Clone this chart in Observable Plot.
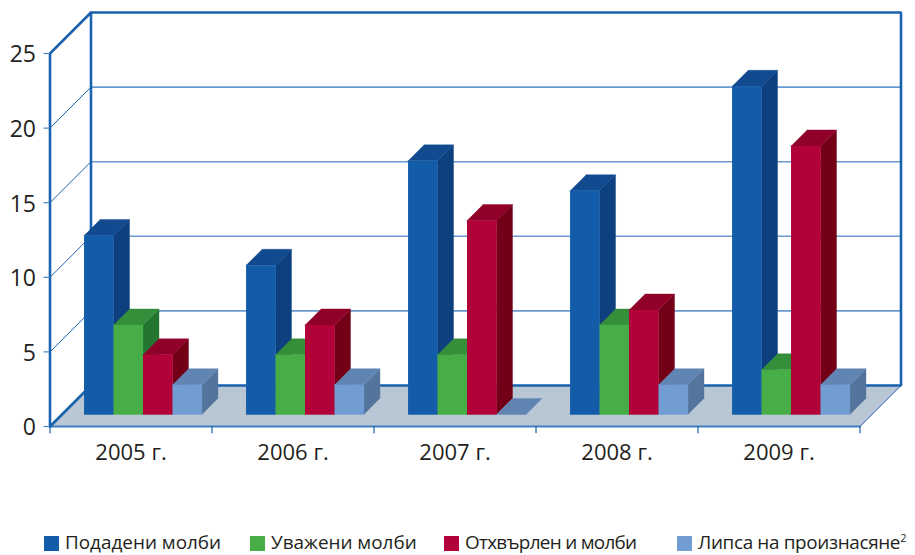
<!DOCTYPE html>
<html>
<head>
<meta charset="utf-8">
<script src="https://cdn.jsdelivr.net/npm/d3@7"></script>
<script src="https://cdn.jsdelivr.net/npm/@observablehq/plot@0.6"></script>
<style>
html,body{margin:0;padding:0;background:#fff;overflow:hidden}
#chart svg{display:block}
#legend{position:relative;height:30px;font-family:"Open Sans",sans-serif;font-size:18.9px;color:#231f20}
.item{position:absolute;top:5.5px;white-space:nowrap;line-height:22px}
.sw{position:absolute;top:11px;width:15px;height:15px}
sup{font-size:11px;line-height:0}
</style>
</head>
<body>
<div id="chart"></div>
<div id="legend"></div>
<script>
const years = ["2005 г.", "2006 г.", "2007 г.", "2008 г.", "2009 г."];
const submitted = [12, 10, 17, 15, 22];
const granted = [6, 4, 4, 6, 3];
const rejected = [4, 6, 13, 7, 18];
const noRuling = [2, 2, 0, 2, 2];
const seriesNames = ["Подадени молби", "Уважени молби", "Отхвърлен и молби", "Липса на произнасяне"];
const valueTicks = [0, 5, 10, 15, 20, 25];

const seriesValues = [submitted, granted, rejected, noRuling];
const frontColors = ["#135ca9", "#46ad47", "#b10239", "#719dd3"];
const sideColors = ["#0e3f7f", "#23752f", "#730016", "#54749c"];
const topColors = ["#114a8f", "#358e3a", "#910028", "#6185b2"];

// oblique projection: depth d (0 front, 1 back wall) shifts along x and y in data units
const depthX = 0.253, depthY = 2.75;
const barFront = 0.293, barBack = 0.683;
const barW = 0.182, groupGap = (1 - 4 * barW) / 2;
const yMax = 25;
const p = (x, v, d) => ({x: x + d * depthX, y: v + d * depthY});
const path = (pts, extra = {}) => pts.map(([x, v, d]) => ({...p(x, v, d), ...extra}));

// bar polygons, painted left to right inside each group
const polys = [];
let id = 0;
years.forEach((_, c) => {
  for (let s = 0; s < 4; s++) {
    const v = seriesValues[s][c];
    const x0 = c + groupGap + s * barW, x1 = x0 + barW;
    const f = barFront, b = barBack;
    if (v > 0) {
      polys.push(...path([[x1,0,f],[x1,v,f],[x1,v,b],[x1,0,b]], {z: id++, c: sideColors[s]}));
    }
    polys.push(...path([[x0,v,f],[x1,v,f],[x1,v,b],[x0,v,b]], {z: id++, c: topColors[s]}));
    if (v > 0) {
      polys.push(...path([[x0,0,f],[x1,0,f],[x1,v,f],[x0,v,f]], {z: id++, c: frontColors[s]}));
    }
  }
});

const floor = path([[0,0,0],[5,0,0],[5,0,1],[0,0,1]]);
const sideGrid = valueTicks.slice(1, -1).flatMap(v => path([[0,v,0],[0,v,1]], {z: v}));
const backGrid = valueTicks.slice(1, -1).flatMap(v => path([[0,v,1],[5,v,1]], {z: v}));
const wallA = path([[0,0,0],[0,yMax,0],[0,yMax,1],[0,0,1]]);
const wallB = path([[0,0,0],[0,0,1],[5,0,1],[5,yMax,1],[0,yMax,1]]);
const frontLine = path([[0,0,0],[5,0,0]]);
const rightLine = path([[5,0,0],[5,0,1]]);
const boundaries = d3.range(0, 6);

const W = 915, H = 525;
const blue = "#1a62ae";

const chart = Plot.plot({
  width: W, height: H,
  marginLeft: 49.5, marginRight: 14.5, marginTop: 12, marginBottom: H - 426,
  style: {fontFamily: "'Open Sans', sans-serif", background: "#fff", color: "#231f20", overflow: "visible"},
  x: {domain: [0, 5 + depthX], axis: null},
  y: {domain: [0, yMax + depthY], axis: null},
  color: {type: "identity"},
  marks: [
    Plot.line(floor, {x: "x", y: "y", fill: "#b8c7d3", stroke: "none"}),
    Plot.line(backGrid, {x: "x", y: "y", z: "z", stroke: "#6a99cf", strokeWidth: 1.6}),
    Plot.line(sideGrid, {x: "x", y: "y", z: "z", stroke: blue, strokeWidth: 1}),
    Plot.line(frontLine, {x: "x", y: "y", stroke: "#3f7fc0", strokeWidth: 2}),
    Plot.line(rightLine, {x: "x", y: "y", stroke: blue, strokeWidth: 1}),
    Plot.line(wallB, {x: "x", y: "y", stroke: blue, strokeWidth: 2.6, strokeLinejoin: "miter"}),
    Plot.line(wallA, {x: "x", y: "y", stroke: blue, strokeWidth: 2.6, strokeLinejoin: "miter"}),
    Plot.ruleX(boundaries, {x: d => d, y1: 0, y2: -0.48, stroke: blue, strokeWidth: 1.2}),
    Plot.ruleY(valueTicks, {y: d => d, x1: -0.037, x2: 0, stroke: "#4a86c5", strokeWidth: 1.2}),
    Plot.line(polys, {x: "x", y: "y", z: "z", fill: "c", stroke: "c", strokeWidth: 0.4}),
    Plot.axisY({ticks: valueTicks, anchor: "left", tickSize: 0, tickPadding: 14, color: "#231f20", fontSize: 23, label: null, dy: 1.5}),
    Plot.axisX({ticks: years.map((_, i) => i + 0.5), tickFormat: d => years[Math.floor(d)], anchor: "bottom", tickSize: 0, tickPadding: 18, fontSize: 22, label: null})
  ]
});
document.getElementById("chart").append(chart);

const legend = d3.select("#legend");
const swatchLeft = [44, 250, 444, 677];
const tracking = ["0", "0", "-0.7px", "-0.35px"];
seriesNames.forEach((name, i) => {
  legend.append("div").attr("class", "sw").style("left", swatchLeft[i] + "px").style("background", frontColors[i]);
  const t = legend.append("div").attr("class", "item").style("left", (swatchLeft[i] + 21) + "px").style("letter-spacing", tracking[i]).text(name);
  if (i === 3) t.append("sup").text("2");
});
</script>
</body>
</html>
